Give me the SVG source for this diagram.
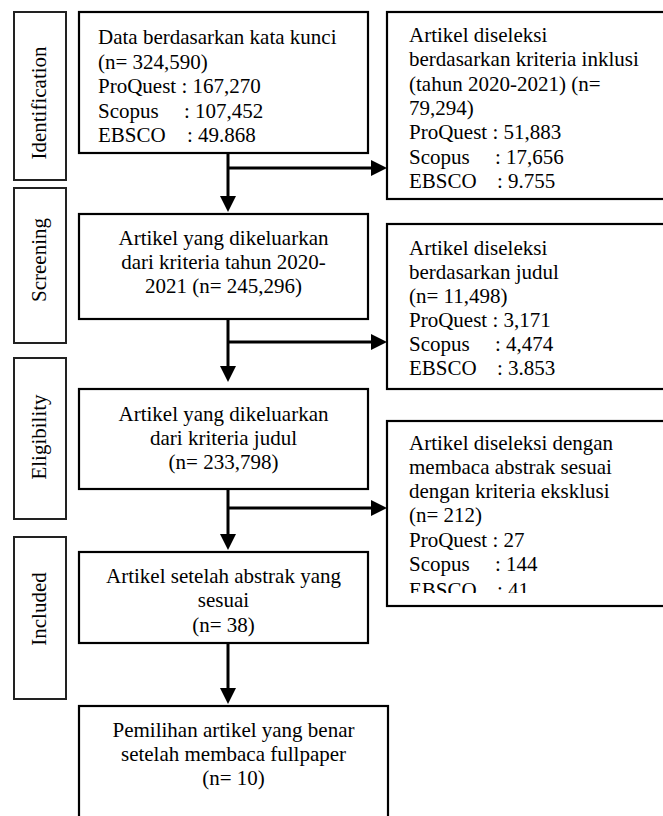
<svg xmlns="http://www.w3.org/2000/svg" width="663" height="816" viewBox="0 0 663 816">
<style>
  text { font-family: "Liberation Serif", "Times New Roman", serif; font-size: 21px; fill: #000; }
  .c { text-anchor: middle; }
  .box { fill: #fff; stroke: #000; stroke-width: 2.2; }
  .side { fill: #fff; stroke: #222; stroke-width: 2; }
  .conn { fill: none; stroke: #000; stroke-width: 3; }
</style>
<defs>
  <marker id="ah" markerUnits="userSpaceOnUse" markerWidth="16" markerHeight="16" viewBox="0 0 16 16" refX="12" refY="8" orient="auto">
    <path d="M0,0 L16,8 L0,16 z" fill="#000"/>
  </marker>
  <clipPath id="clipR3"><rect x="388" y="422" width="280" height="171"/></clipPath>
</defs>

<g id="stage-identification">
  <rect class="side" x="14" y="12" width="52" height="168"/>
  <text class="c" transform="translate(45.5,103) rotate(-90)">Identification</text>
</g>
<g id="stage-screening">
  <rect class="side" x="14" y="188" width="52" height="155"/>
  <text class="c" transform="translate(45.5,260) rotate(-90)">Screening</text>
</g>
<g id="stage-eligibility">
  <rect class="side" x="14" y="358" width="52" height="161"/>
  <text class="c" transform="translate(45.5,437) rotate(-90)">Eligibility</text>
</g>
<g id="stage-included">
  <rect class="side" x="14" y="537" width="52" height="162"/>
  <text class="c" transform="translate(45.5,609) rotate(-90)">Included</text>
</g>

<g id="node-data">
  <rect class="box" x="79" y="12" width="289" height="141"/>
  <text x="98" y="44">Data berdasarkan kata kunci</text>
  <text x="98" y="68.5">(n= 324,590)</text>
  <text x="98" y="93">ProQuest : 167,270</text>
  <text x="98" y="117.5">Scopus<tspan x="184">: 107,452</tspan></text>
  <text x="98" y="142">EBSCO<tspan x="187">: 49.868</tspan></text>
</g>

<g id="node-inklusi">
  <rect class="box" x="387" y="12" width="300" height="187"/>
  <text x="409" y="42">Artikel diseleksi</text>
  <text x="409" y="66.3">berdasarkan kriteria inklusi</text>
  <text x="409" y="90.6">(tahun 2020-2021) (n=</text>
  <text x="409" y="115">79,294)</text>
  <text x="409" y="139.3">ProQuest : 51,883</text>
  <text x="409" y="163.6">Scopus<tspan x="495">: 17,656</tspan></text>
  <text x="409" y="188">EBSCO<tspan x="497">: 9.755</tspan></text>
</g>

<g id="node-tahun">
  <rect class="box" x="79" y="214" width="289" height="105"/>
  <text class="c" x="223.5" y="245">Artikel yang dikeluarkan</text>
  <text class="c" x="223.5" y="269">dari kriteria tahun 2020-</text>
  <text class="c" x="223.5" y="293">2021 (n= 245,296)</text>
</g>

<g id="node-judul-seleksi">
  <rect class="box" x="387" y="224" width="300" height="165"/>
  <text x="409" y="255">Artikel diseleksi</text>
  <text x="409" y="279">berdasarkan judul</text>
  <text x="409" y="303">(n= 11,498)</text>
  <text x="409" y="327">ProQuest : 3,171</text>
  <text x="409" y="351">Scopus<tspan x="495">: 4,474</tspan></text>
  <text x="409" y="375">EBSCO<tspan x="497">: 3.853</tspan></text>
</g>

<g id="node-judul">
  <rect class="box" x="79" y="389" width="289" height="100"/>
  <text class="c" x="223.5" y="421">Artikel yang dikeluarkan</text>
  <text class="c" x="223.5" y="445">dari kriteria judul</text>
  <text class="c" x="223.5" y="469">(n= 233,798)</text>
</g>

<g id="node-abstrak-seleksi">
  <rect class="box" x="387" y="421" width="300" height="185"/>
  <g clip-path="url(#clipR3)">
    <text x="409" y="450">Artikel diseleksi dengan</text>
    <text x="409" y="474">membaca abstrak sesuai</text>
    <text x="409" y="498">dengan kriteria eksklusi</text>
    <text x="409" y="522">(n= 212)</text>
    <text x="409" y="547">ProQuest : 27</text>
    <text x="409" y="571">Scopus<tspan x="495">: 144</tspan></text>
    <text x="409" y="597">EBSCO<tspan x="497">: 41</tspan></text>
  </g>
</g>

<g id="node-abstrak">
  <rect class="box" x="79" y="552" width="289" height="91"/>
  <text class="c" x="223.5" y="583">Artikel setelah abstrak yang</text>
  <text class="c" x="223.5" y="607">sesuai</text>
  <text class="c" x="223.5" y="632">(n= 38)</text>
</g>

<g id="node-fullpaper">
  <rect class="box" x="79" y="706" width="309" height="130"/>
  <text class="c" x="233.5" y="737">Pemilihan artikel yang benar</text>
  <text class="c" x="233.5" y="761">setelah membaca fullpaper</text>
  <text class="c" x="233.5" y="785">(n= 10)</text>
</g>

<g id="connectors">
  <line class="conn" x1="228" y1="153" x2="228" y2="208" marker-end="url(#ah)"/>
  <line class="conn" x1="228" y1="168" x2="383" y2="168" marker-end="url(#ah)"/>
  <line class="conn" x1="228" y1="319" x2="228" y2="378" marker-end="url(#ah)"/>
  <line class="conn" x1="228" y1="342" x2="383" y2="342" marker-end="url(#ah)"/>
  <line class="conn" x1="228" y1="489" x2="228" y2="546" marker-end="url(#ah)"/>
  <line class="conn" x1="228" y1="508" x2="383" y2="508" marker-end="url(#ah)"/>
  <line class="conn" x1="228" y1="643" x2="228" y2="700" marker-end="url(#ah)"/>
</g>
</svg>
